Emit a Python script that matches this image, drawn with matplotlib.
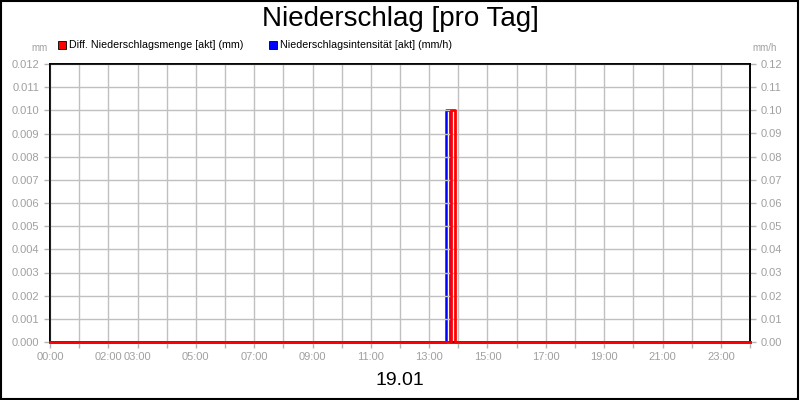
import matplotlib
matplotlib.use('Agg')
import matplotlib.pyplot as plt
from matplotlib.patches import Rectangle

plt.rcParams['font.family'] = ['Liberation Sans', 'DejaVu Sans']

## data ##

# hours of the day 19.01
menge_t = [0.0, 13.757, 13.757, 13.874, 13.874, 24.0]
menge_v = [0.0, 0.0, 0.010, 0.010, 0.0, 0.0]          # mm
intens_t = [0.0, 13.577, 13.577, 13.703, 13.703, 24.0]
intens_v = [0.0, 0.0, 0.10, 0.10, 0.0, 0.0]            # mm/h

xlabel_hours = [0, 2, 3, 5, 7, 9, 11, 13, 15, 17, 19, 21, 23]
left_ticks = [i / 1000 for i in range(13)]
right_ticks = [i / 100 for i in range(13)]

grey = '#b4b4b4'
label_grey = '#a0a0a0'

## plot ##

fig = plt.figure(figsize=(8, 4), dpi=100)
ax = fig.add_axes([50 / 800, 58 / 400, 700 / 800, 278 / 400])
ax2 = ax.twinx()

ax.set_xlim(0, 24)
ax.set_ylim(0, 0.012)
ax2.set_ylim(0, 0.12)

ax.set_xticks(range(25))
ax.set_xticklabels(['%02d:00' % h if h in xlabel_hours else '' for h in range(25)])
ax.set_yticks(left_ticks)
ax.set_yticklabels(['%.3f' % v for v in left_ticks])
ax2.set_yticks(right_ticks)
ax2.set_yticklabels(['%.2f' % v for v in right_ticks])

ax.grid(True, color='#c0c0c0', linewidth=1)
ax.set_axisbelow(True)
for a in (ax, ax2):
    a.tick_params(colors=grey, labelcolor=label_grey, labelsize=8, length=4, width=1)
    for s in a.spines.values():
        s.set_color('black')
        s.set_linewidth(1.2)

ax2.plot(intens_t, intens_v, color='#0000ff', linewidth=1.8, zorder=3, clip_on=False)
ax.plot(menge_t, menge_v, color='#ff0000', linewidth=2.0, zorder=4, clip_on=False)
ax.set_zorder(ax2.get_zorder() + 1)
ax.patch.set_visible(False)

fig.text(0.5, 0.952, 'Niederschlag [pro Tag]', ha='center', va='center', fontsize=20)
fig.text(0.5, 0.048, '19.01', ha='center', va='center', fontsize=14)
fig.text(40 / 800, 1 - 48 / 400, 'mm', ha='center', va='center', fontsize=7, color=label_grey)
fig.text(765 / 800, 1 - 48 / 400, 'mm/h', ha='center', va='center', fontsize=7, color=label_grey)

# legend
for x0, col, txt in [(58, '#ff0000', 'Diff. Niederschlagsmenge [akt] (mm)'),
                     (269, '#0000ff', 'Niederschlagsintensität [akt] (mm/h)')]:
    fig.patches.append(Rectangle((x0 / 800, 1 - 49 / 400), 8 / 800, 8 / 400,
                                 transform=fig.transFigure, facecolor=col,
                                 edgecolor='black', linewidth=0.6))
    fig.text((x0 + 11) / 800, 1 - 45 / 400, txt, ha='left', va='center', fontsize=7.7)

fig.patches.append(Rectangle((0.001, 0.002), 0.997, 0.995, transform=fig.transFigure,
                             fill=False, edgecolor='black', linewidth=1.5))

fig.savefig('out.png', dpi=100)
